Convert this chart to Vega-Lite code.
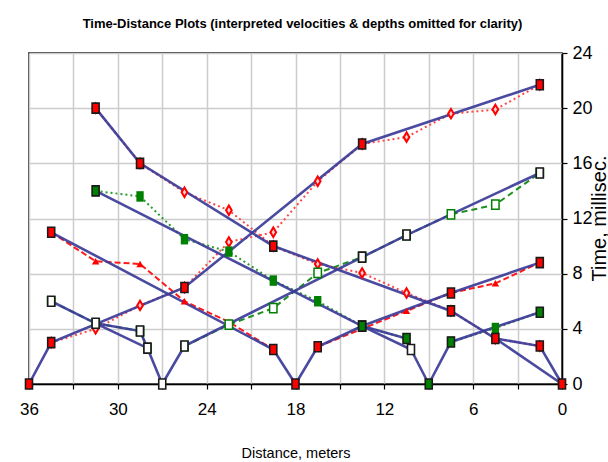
{
  "$schema": "https://vega.github.io/schema/vega-lite/v6.json",
  "width": 533,
  "height": 331,
  "autosize": {"type": "none"},
  "padding": {"left": 29, "top": 53, "right": 46, "bottom": 78},
  "background": "white",
  "title": {
    "text": "Time-Distance Plots (interpreted velocities & depths omitted for clarity)",
    "font": "Liberation Sans, Arial, sans-serif",
    "fontSize": 13,
    "fontWeight": "bold",
    "color": "black",
    "baseline": "alphabetic",
    "offset": 27,
    "dy": 24,
    "dx": 7
  },
  "datasets": {
    "lines": [
      {"seg": "s36", "x": 36, "y": 0}, {"seg": "s36", "x": 34.5, "y": 3}, {"seg": "s36", "x": 25.5, "y": 7}, {"seg": "s36", "x": 13.5, "y": 17.4}, {"seg": "s36", "x": 1.5, "y": 21.7},
      {"seg": "s0", "x": 0, "y": 0}, {"seg": "s0", "x": 1.5, "y": 2.75}, {"seg": "s0", "x": 4.5, "y": 3.3}, {"seg": "s0", "x": 7.5, "y": 5.3}, {"seg": "s0", "x": 19.5, "y": 10}, {"seg": "s0", "x": 28.5, "y": 16}, {"seg": "s0", "x": 31.5, "y": 20},
      {"seg": "s0b", "x": 0, "y": 0}, {"seg": "s0b", "x": 4.5, "y": 3.3},
      {"seg": "s27r", "x": 27, "y": 0}, {"seg": "s27r", "x": 28.0, "y": 2.6}, {"seg": "s27r", "x": 28.5, "y": 3.84}, {"seg": "s27r", "x": 31.5, "y": 4.4}, {"seg": "s27r", "x": 34.5, "y": 6.0},
      {"seg": "s27rb", "x": 28.0, "y": 2.6}, {"seg": "s27rb", "x": 31.5, "y": 4.4},
      {"seg": "s27f", "x": 27, "y": 0}, {"seg": "s27f", "x": 25.5, "y": 2.75}, {"seg": "s27f", "x": 13.5, "y": 9.2}, {"seg": "s27f", "x": 10.5, "y": 10.8}, {"seg": "s27f", "x": 1.5, "y": 15.3},
      {"seg": "s18r", "x": 18, "y": 0}, {"seg": "s18r", "x": 19.5, "y": 2.5}, {"seg": "s18r", "x": 34.5, "y": 11},
      {"seg": "s18f", "x": 18, "y": 0}, {"seg": "s18f", "x": 16.5, "y": 2.7}, {"seg": "s18f", "x": 13.5, "y": 4.2}, {"seg": "s18f", "x": 7.5, "y": 6.6}, {"seg": "s18f", "x": 1.5, "y": 8.8},
      {"seg": "s9r", "x": 9, "y": 0}, {"seg": "s9r", "x": 10.2, "y": 2.5}, {"seg": "s9r", "x": 10.5, "y": 3.3}, {"seg": "s9r", "x": 13.5, "y": 4.2}, {"seg": "s9r", "x": 31.5, "y": 14},
      {"seg": "s9rb", "x": 10.2, "y": 2.5}, {"seg": "s9rb", "x": 13.5, "y": 4.2},
      {"seg": "s9f", "x": 9, "y": 0}, {"seg": "s9f", "x": 7.5, "y": 3.05}, {"seg": "s9f", "x": 1.5, "y": 5.2}
    ],
    "picks": [
      {"series": "shot36f", "x": 34.5, "y": 3}, {"series": "shot36f", "x": 31.5, "y": 4.0}, {"series": "shot36f", "x": 28.5, "y": 5.7}, {"series": "shot36f", "x": 25.5, "y": 7}, {"series": "shot36f", "x": 22.5, "y": 10.3}, {"series": "shot36f", "x": 19.5, "y": 11.0}, {"series": "shot36f", "x": 16.5, "y": 14.7}, {"series": "shot36f", "x": 13.5, "y": 17.4}, {"series": "shot36f", "x": 10.5, "y": 17.9}, {"series": "shot36f", "x": 7.5, "y": 19.6}, {"series": "shot36f", "x": 4.5, "y": 19.9}, {"series": "shot36f", "x": 1.5, "y": 21.7},
      {"series": "shot0r", "x": 1.5, "y": 2.75}, {"series": "shot0r", "x": 4.5, "y": 3.3}, {"series": "shot0r", "x": 7.5, "y": 5.3}, {"series": "shot0r", "x": 10.5, "y": 6.6}, {"series": "shot0r", "x": 13.5, "y": 8.05}, {"series": "shot0r", "x": 16.5, "y": 8.7}, {"series": "shot0r", "x": 19.5, "y": 10.0}, {"series": "shot0r", "x": 22.5, "y": 12.6}, {"series": "shot0r", "x": 25.5, "y": 13.9}, {"series": "shot0r", "x": 28.5, "y": 16}, {"series": "shot0r", "x": 31.5, "y": 20},
      {"series": "shot18r", "x": 19.5, "y": 2.5}, {"series": "shot18r", "x": 22.5, "y": 4.5}, {"series": "shot18r", "x": 25.5, "y": 6.0}, {"series": "shot18r", "x": 28.5, "y": 8.7}, {"series": "shot18r", "x": 31.5, "y": 8.9}, {"series": "shot18r", "x": 34.5, "y": 11},
      {"series": "shot18f", "x": 16.5, "y": 2.7}, {"series": "shot18f", "x": 13.5, "y": 4.0}, {"series": "shot18f", "x": 10.5, "y": 5.3}, {"series": "shot18f", "x": 7.5, "y": 6.6}, {"series": "shot18f", "x": 4.5, "y": 7.3}, {"series": "shot18f", "x": 1.5, "y": 8.8},
      {"series": "shot9r", "x": 10.5, "y": 3.3}, {"series": "shot9r", "x": 13.5, "y": 4.2}, {"series": "shot9r", "x": 16.5, "y": 6.0}, {"series": "shot9r", "x": 19.5, "y": 7.5}, {"series": "shot9r", "x": 22.5, "y": 9.6}, {"series": "shot9r", "x": 25.5, "y": 10.5}, {"series": "shot9r", "x": 28.5, "y": 13.6}, {"series": "shot9r", "x": 31.5, "y": 14},
      {"series": "shot9f", "x": 7.5, "y": 3.05}, {"series": "shot9f", "x": 4.5, "y": 4.06}, {"series": "shot9f", "x": 1.5, "y": 5.2},
      {"series": "shot27f", "x": 25.5, "y": 2.75}, {"series": "shot27f", "x": 22.5, "y": 4.3}, {"series": "shot27f", "x": 19.5, "y": 5.5}, {"series": "shot27f", "x": 16.5, "y": 8.05}, {"series": "shot27f", "x": 13.5, "y": 9.2}, {"series": "shot27f", "x": 10.5, "y": 10.8}, {"series": "shot27f", "x": 7.5, "y": 12.3}, {"series": "shot27f", "x": 4.5, "y": 13.0}, {"series": "shot27f", "x": 1.5, "y": 15.3},
      {"series": "shot27r", "x": 28.0, "y": 2.6}, {"series": "shot27r", "x": 28.5, "y": 3.84}, {"series": "shot27r", "x": 31.5, "y": 4.4}, {"series": "shot27r", "x": 34.5, "y": 6.0}
    ],
    "nodes": [
      {"grp": "A", "x": 36, "y": 0}, {"grp": "A", "x": 34.5, "y": 3}, {"grp": "A", "x": 25.5, "y": 7}, {"grp": "A", "x": 13.5, "y": 17.4}, {"grp": "A", "x": 1.5, "y": 21.7},
      {"grp": "A", "x": 0, "y": 0}, {"grp": "A", "x": 1.5, "y": 2.75}, {"grp": "A", "x": 4.5, "y": 3.3}, {"grp": "A", "x": 7.5, "y": 5.3}, {"grp": "A", "x": 19.5, "y": 10}, {"grp": "A", "x": 28.5, "y": 16}, {"grp": "A", "x": 31.5, "y": 20},
      {"grp": "A", "x": 18, "y": 0}, {"grp": "A", "x": 19.5, "y": 2.5}, {"grp": "A", "x": 34.5, "y": 11}, {"grp": "A", "x": 16.5, "y": 2.7}, {"grp": "A", "x": 13.5, "y": 4.2}, {"grp": "A", "x": 7.5, "y": 6.6}, {"grp": "A", "x": 1.5, "y": 8.8},
      {"grp": "B", "x": 9, "y": 0}, {"grp": "B", "x": 10.5, "y": 3.3}, {"grp": "B", "x": 13.5, "y": 4.2}, {"grp": "B", "x": 31.5, "y": 14}, {"grp": "B", "x": 7.5, "y": 3.05}, {"grp": "B", "x": 1.5, "y": 5.2},
      {"grp": "C", "x": 10.2, "y": 2.5},
      {"grp": "C", "x": 27, "y": 0}, {"grp": "C", "x": 28.0, "y": 2.6}, {"grp": "C", "x": 28.5, "y": 3.84}, {"grp": "C", "x": 31.5, "y": 4.4}, {"grp": "C", "x": 34.5, "y": 6.0}, {"grp": "C", "x": 25.5, "y": 2.75}, {"grp": "C", "x": 13.5, "y": 9.2}, {"grp": "C", "x": 10.5, "y": 10.8}, {"grp": "C", "x": 1.5, "y": 15.3}
    ]
  },
  "encoding": {
    "x": {
      "field": "x", "type": "quantitative",
      "scale": {"domain": [0, 36], "reverse": true, "nice": false, "zero": false},
      "axis": {
        "orient": "bottom",
        "title": "Distance, meters",
        "values": [0, 3, 6, 9, 12, 15, 18, 21, 24, 27, 30, 33, 36],
        "labelExpr": "datum.value % 6 === 0 ? datum.label : ''",
        "labelPadding": 25,
        "labelBaseline": "alphabetic",
        "labelFontSize": 17,
        "titleY": 73,
        "titleBaseline": "alphabetic",
        "titleFontSize": 14.5
      }
    },
    "y": {
      "field": "y", "type": "quantitative",
      "scale": {"domain": [0, 24], "nice": false, "zero": false},
      "axis": {
        "orient": "right",
        "title": "Time, millisec.",
        "values": [0, 4, 8, 12, 16, 20, 24],
        "labelPadding": 5,
        "labelFontSize": 18,
        "labelBaseline": "middle",
        "titleAngle": 270,
        "titleX": 37,
        "titleY": 165,
        "titleAlign": "center",
        "titleBaseline": "middle",
        "titleFontSize": 20
      }
    }
  },
  "layer": [
    {
      "data": {"name": "picks"},
      "mark": {"type": "line", "strokeWidth": 2},
      "encoding": {
        "detail": {"field": "series"},
        "color": {"field": "series", "type": "nominal", "legend": null,
          "scale": {"domain": ["shot36f", "shot0r", "shot18r", "shot18f", "shot9r", "shot9f", "shot27f", "shot27r"],
                    "range": ["#ff4848", "#ff4848", "#ff1a1a", "#ff1a1a", "#2a9a2a", "#2a9a2a", "#1f8f1f", "#1f8f1f"]}},
        "strokeDash": {"field": "series", "type": "nominal", "legend": null,
          "scale": {"domain": ["shot36f", "shot0r", "shot18r", "shot18f", "shot9r", "shot9f", "shot27f", "shot27r"],
                    "range": [[2, 3], [2, 3], [6, 3], [6, 3], [2, 3], [2, 3], [6, 4], [6, 4]]}}
      }
    },
    {
      "data": {"name": "lines"},
      "mark": {"type": "line", "strokeWidth": 2.6, "color": "#3b3b98", "opacity": 0.92},
      "encoding": {"detail": {"field": "seg"}}
    },
    {
      "data": {"name": "picks"},
      "transform": [{"filter": {"field": "series", "oneOf": ["shot36f", "shot0r"]}}],
      "mark": {"type": "point", "shape": "M0,-1L0.6,0L0,1L-0.6,0Z", "size": 90, "filled": false, "stroke": "#ff0000", "strokeWidth": 2, "fill": "#ffd0d0", "fillOpacity": 1}
    },
    {
      "data": {"name": "picks"},
      "transform": [{"filter": {"field": "series", "oneOf": ["shot18r", "shot18f"]}}],
      "mark": {"type": "point", "shape": "triangle-up", "size": 55, "filled": true, "color": "#ff0000", "opacity": 1}
    },
    {
      "data": {"name": "picks"},
      "transform": [{"filter": {"field": "series", "oneOf": ["shot9r", "shot9f"]}}],
      "mark": {"type": "point", "shape": "M-0.7,-1L0.7,-1L0.7,1L-0.7,1Z", "size": 110, "filled": true, "color": "#008000", "opacity": 1}
    },
    {
      "data": {"name": "picks"},
      "transform": [{"filter": {"field": "series", "oneOf": ["shot27f", "shot27r"]}}],
      "mark": {"type": "point", "shape": "M-0.8,-1L0.8,-1L0.8,1L-0.8,1Z", "size": 85, "filled": false, "stroke": "#008000", "strokeWidth": 1.5, "fill": "white", "fillOpacity": 1}
    },
    {
      "data": {"name": "nodes"},
      "mark": {"type": "point", "shape": "M-0.7,-1L0.7,-1L0.7,1L-0.7,1Z", "size": 100, "filled": false, "stroke": "#1a1a1a", "strokeWidth": 1.6, "fillOpacity": 1, "opacity": 1},
      "encoding": {
        "fill": {"field": "grp", "type": "nominal", "legend": null,
          "scale": {"domain": ["A", "B", "C"], "range": ["#ff0000", "#008000", "#ffffff"]}}
      }
    }
  ],
  "config": {
    "view": {"stroke": "#000000", "strokeWidth": 1.5},
    "font": "Liberation Sans, Arial, sans-serif",
    "axis": {
      "grid": true,
      "gridColor": "#cccccc",
      "gridWidth": 1.5,
      "domainColor": "#000000",
      "domainWidth": 1.5,
      "tickColor": "#000000",
      "tickWidth": 1.2,
      "tickSize": 5,
      "labelColor": "#000000",
      "titleColor": "#000000",
      "titleFontWeight": "normal",
      "labelFont": "Liberation Sans, Arial, sans-serif",
      "titleFont": "Liberation Sans, Arial, sans-serif",
      "labelFlush": false,
      "labelOverlap": false
    }
  }
}
